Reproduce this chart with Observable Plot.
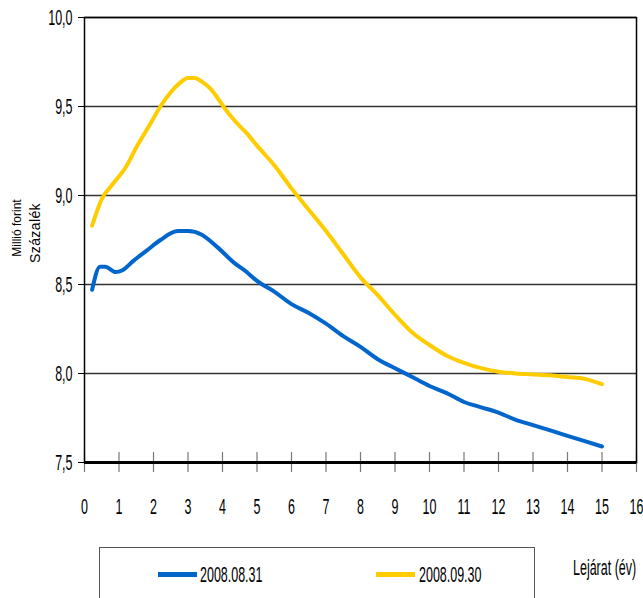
<!DOCTYPE html>
<html>
<head>
<meta charset="utf-8">
<script src="https://cdn.jsdelivr.net/npm/d3@7"></script>
<script src="https://cdn.jsdelivr.net/npm/@observablehq/plot@0.6"></script>
<style>
  html, body { margin: 0; padding: 0; background: #fff; }
  #wrap { position: relative; width: 643px; height: 598px; overflow: hidden; font-family: "Liberation Sans", Arial, sans-serif; }
  #wrap svg text { font-family: "Liberation Sans", Arial, sans-serif; }
  .ov { position: absolute; white-space: nowrap; color: #000; line-height: 16px; }
  .cond { font-size: 16px; transform-origin: 0 50%; transform: scale(0.78, 1.4); }
  #legendBox { position: absolute; left: 99px; top: 547px; width: 436px; height: 60px; border: 1px solid #555; box-sizing: border-box; }
  .sw { position: absolute; width: 39px; height: 5px; }
</style>
</head>
<body>
<div id="wrap"></div>
<script>
// Lejárat (év) – maturity in years
const maturity0831 = [0.22,0.45,0.6,0.9,1.1,1.4,1.8,2.2,2.7,3.0,3.4,3.85,4.35,4.7,5.0,5.5,6.0,6.5,7.0,7.5,8.0,8.5,9.0,9.5,10.0,10.5,11.0,11.5,12.0,12.5,13.0,13.5,14.0,14.5,15.0];
const yield0831    = [8.47,8.60,8.60,8.57,8.58,8.63,8.69,8.75,8.80,8.80,8.78,8.71,8.62,8.57,8.52,8.46,8.39,8.34,8.28,8.21,8.15,8.08,8.03,7.98,7.93,7.89,7.84,7.81,7.78,7.74,7.71,7.68,7.65,7.62,7.59];
const maturity0930 = [0.22,0.5,0.8,1.2,1.5,1.9,2.2,2.5,2.75,3.0,3.2,3.4,3.65,3.85,4.1,4.4,4.7,5.0,5.5,6.0,6.5,7.0,7.5,8.0,8.5,9.0,9.5,10.0,10.5,11.0,11.5,12.0,12.5,13.0,13.5,14.0,14.5,15.0];
const yield0930    = [8.83,8.98,9.06,9.16,9.27,9.40,9.50,9.58,9.63,9.66,9.66,9.64,9.60,9.55,9.48,9.41,9.35,9.28,9.17,9.04,8.92,8.80,8.67,8.54,8.44,8.33,8.23,8.16,8.10,8.06,8.03,8.01,8.00,7.995,7.99,7.98,7.97,7.94];
const seriesNames = ["2008.08.31", "2008.09.30"];
const seriesColors = ["#0066CC", "#FFCC00"];
const xTicks = d3.range(0, 17, 1);
const yTicks = [7.5, 8.0, 8.5, 9.0, 9.5, 10.0];
const xLabel = "Lejárat (év)";
const yLabel = "Százalék";
const yUnit = "Millió forint";

const data = [
  ...maturity0831.map((m, i) => ({series: seriesNames[0], x: m, y: yield0831[i]})),
  ...maturity0930.map((m, i) => ({series: seriesNames[1], x: m, y: yield0930[i]}))
];
const fmt = d => d.toFixed(1).replace(".", ",");

const chart = Plot.plot({
  width: 643,
  height: 598,
  marginLeft: 84,
  marginRight: 7,
  marginTop: 17,
  marginBottom: 136,
  style: {fontSize: "16px", background: "#fff", overflow: "visible"},
  x: {domain: [0, 16]},
  y: {domain: [7.5, 10]},
  color: {domain: seriesNames, range: seriesColors},
  marks: [
    Plot.ruleY(yTicks, {stroke: "#333", strokeWidth: 1.5}),
    Plot.tickX(xTicks, {x: d => d, stroke: "#777", strokeWidth: 1.2, insetTop: 435}),
    Plot.axisX(xTicks, {tickSize: 10, tickPadding: 26, stroke: "#777", strokeWidth: 1.2, label: null, tickFormat: d => String(d)}),
    Plot.axisY(yTicks, {tickSize: 6, tickPadding: 6, label: null, tickFormat: fmt}),
    Plot.frame({stroke: "#000", strokeWidth: 1.5}),
    Plot.ruleY([7.5], {stroke: "#000", strokeWidth: 3}),
    Plot.line(data, {x: "x", y: "y", z: "series", stroke: "series", strokeWidth: 4, curve: "monotone-x"})
  ]
});

// condense and stretch the tick labels like the original (narrow, tall type)
d3.select(chart).selectAll('g[aria-label="x-axis tick label"] text, g[aria-label="y-axis tick label"] text').each(function() {
  const t = d3.select(this);
  let tr = t.attr("transform") || "";
  const x = t.attr("x"), y = t.attr("y");
  if (x != null && x !== "" && !isNaN(+x)) { tr += ` translate(${x},0)`; t.attr("x", null); }
  if (y != null && y !== "" && !isNaN(+y)) { tr += ` translate(0,${y})`; t.attr("y", null); }
  t.attr("transform", tr + " scale(0.78,1.4)");
});

const wrap = document.getElementById("wrap");
wrap.appendChild(chart);

function addOv(text, css, cls) {
  const d = document.createElement("div");
  d.className = "ov" + (cls ? " " + cls : "");
  d.textContent = text;
  Object.assign(d.style, css);
  wrap.appendChild(d);
  return d;
}
addOv(xLabel, {left: "573px", top: "560px"}, "cond");
addOv(yUnit, {left: "17px", top: "228px", fontSize: "12px", transform: "translate(-50%,-50%) rotate(-90deg)"});
addOv(yLabel, {left: "35px", top: "233px", fontSize: "14px", letterSpacing: "0.4px", transform: "translate(-50%,-50%) rotate(-90deg)"});

const box = document.createElement("div");
box.id = "legendBox";
wrap.appendChild(box);
const swLeft = [158, 376];
const txLeft = [200, 419];
seriesNames.forEach((name, i) => {
  const sw = document.createElement("div");
  sw.className = "sw";
  sw.style.left = swLeft[i] + "px";
  sw.style.top = "572px";
  sw.style.background = seriesColors[i];
  wrap.appendChild(sw);
  addOv(name, {left: txLeft[i] + "px", top: "567px"}, "cond");
});
</script>
</body>
</html>
